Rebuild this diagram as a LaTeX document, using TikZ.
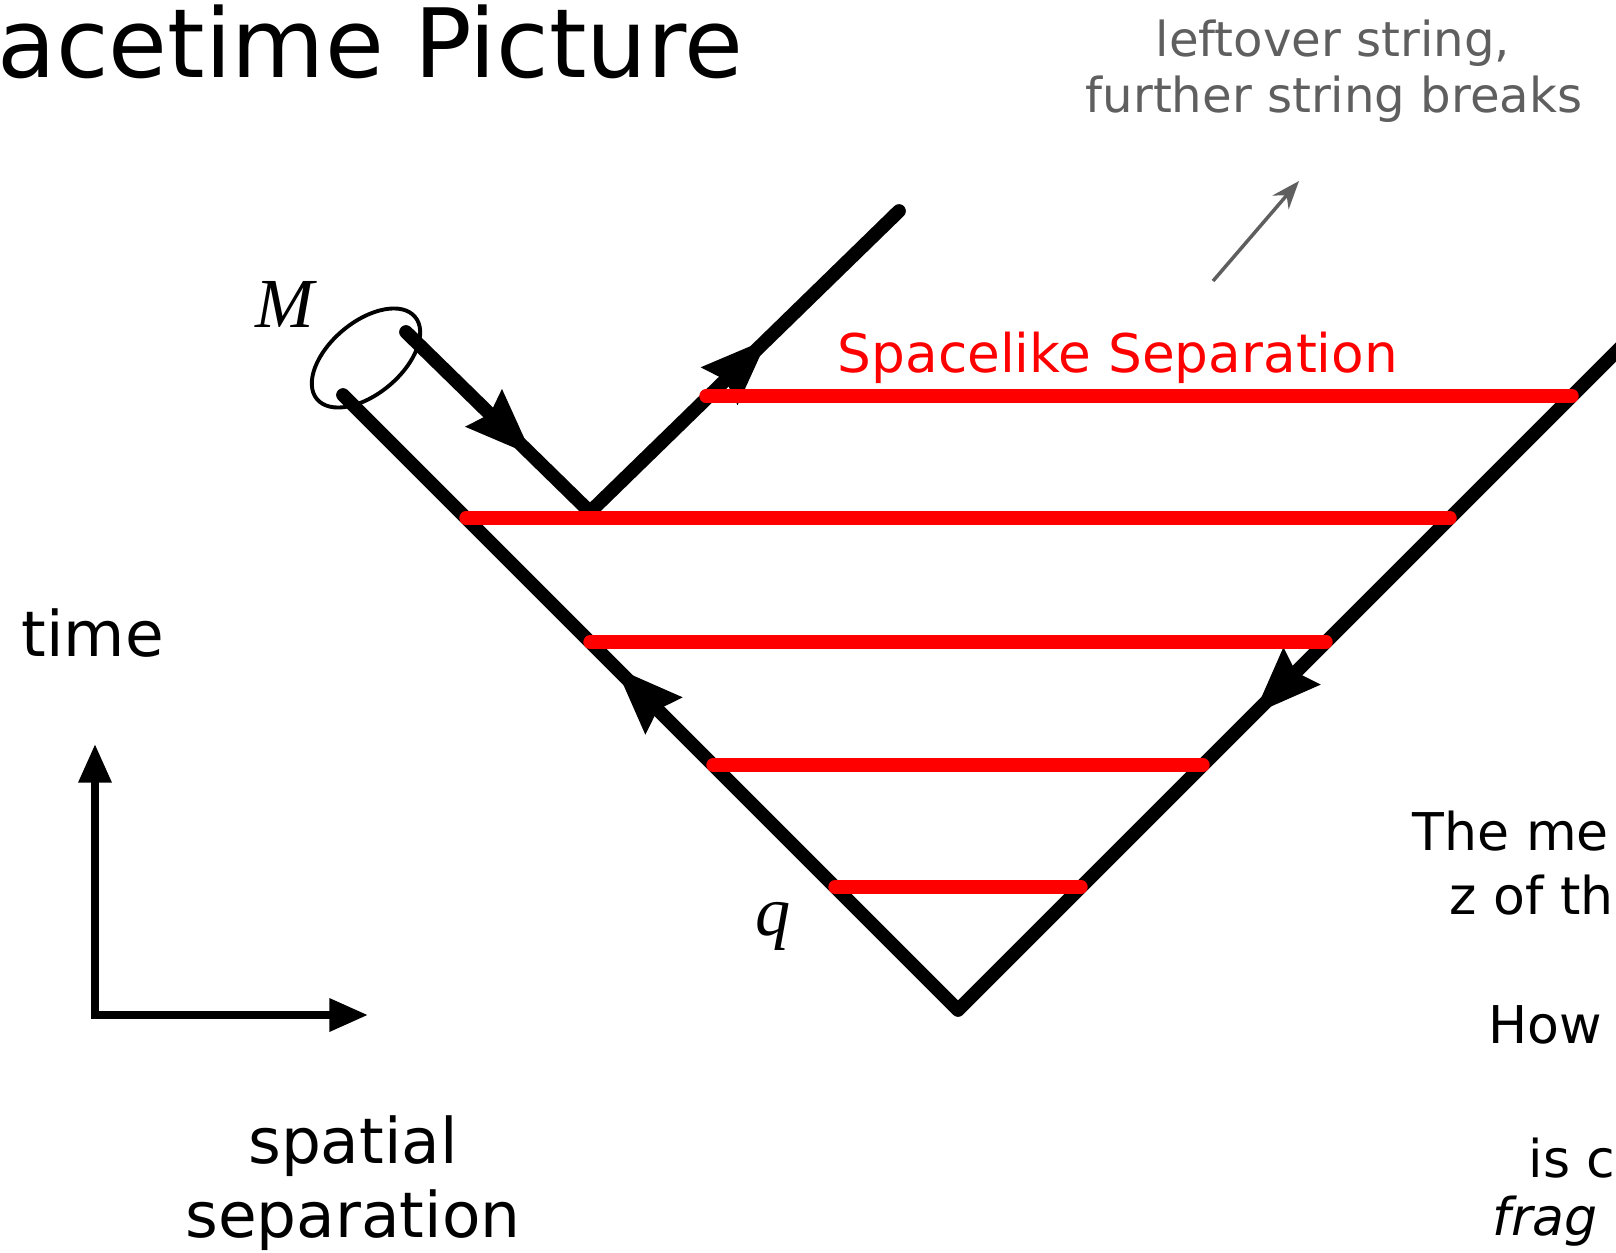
\documentclass[tikz,border=0pt]{standalone}
\usepackage{fontspec}
\setmainfont{DejaVu Sans}
\newfontfamily\timesit[ItalicFont={Liberation Serif Italic}]{Liberation Serif}
\usepackage{tikz}
\usetikzlibrary{arrows.meta,positioning,calc,decorations.markings}
\definecolor{slicered}{HTML}{FF0000}
\definecolor{notegray}{HTML}{5F5F5F}
\newcommand{\fsz}[2]{\fontsize{#1}{#2}\selectfont}

\begin{document}
\begin{tikzpicture}[
    x=0.01cm, y=-0.01cm, >=Stealth,
    worldline/.style={line width=3.9pt, line cap=round, line join=round},
    slice/.style={draw=slicered, line width=3.8pt, line cap=round},
    flowtwo/.style 2 args={postaction={decorate}, decoration={markings,
        mark=at position #1 with {\arrow{Stealth[length=19pt, width=14pt, inset=2pt]}},
        mark=at position #2 with {\arrow{Stealth[length=19pt, width=14pt, inset=2pt]}}}},
    txt/.style={inner sep=0pt, anchor=base west},
    big/.style={txt, font=\fsz{17.9}{21}},
    side/.style={txt, font=\fsz{14.8}{18}},
    note/.style={inner sep=0pt, anchor=base, text=notegray, font=\fsz{13.7}{16}},
    quark/.style={inner sep=0pt, font=\fsz{20}{24}\timesit\itshape}]
  \useasboundingbox (0,0) rectangle (1616,1252);

  % title, cut by the slide edge
  \node[txt, font=\fsz{27.2}{32}] (title) at (-3,78) {acetime Picture};

  % string world lines
  \coordinate (vertex) at (958,1010);
  \coordinate (qend) at (343,395);
  \coordinate (rend) at (1640,328);
  \coordinate (mend) at (406,332);
  \coordinate (kink) at (590,512);
  \coordinate (top) at (899,211);
  \draw[worldline, flowtwo={0.298}{0.79}] (rend) -- (vertex) -- (qend);
  \draw[worldline, flowtwo={0.258}{0.737}] (mend) -- (kink) -- (top);
  \draw[line width=1.1pt] (366,358) ellipse[x radius=64, y radius=36, rotate=40];

  % equal time slices
  \draw[slice] (706,396) -- (1572,396);
  \draw[slice] (466,518) -- (1450,518);
  \draw[slice] (590,642) -- (1326,642);
  \draw[slice] (713,765) -- (1203,765);
  \draw[slice] (835,887) -- (1081,887);
  \node[txt, text=slicered, font=\fsz{15.15}{18}] (sep) at (837,373) {Spacelike Separation};

  \node[quark] (mlabel) at (285,304) {M};
  \node[quark] (qlabel) at (773,926) {q};

  % leftover piece
  \node[note] (note1) at (1333,57) {leftover string,};
  \node[note] (note2) at (1334,113) {further string breaks};
  \coordinate (ptail) at (1213,281);
  \coordinate (phead) at (1299,181);
  \draw[notegray, line width=1pt, -{Stealth[length=8pt, width=6pt]}] (ptail) -- (phead);

  % axes
  \coordinate (origin) at (95,1015);
  \coordinate (ttip) at (95,744);
  \coordinate (xtip) at (368,1015);
  \draw[line width=2.2pt, {Triangle[length=11pt, width=9pt]}-{Triangle[length=11pt, width=9pt]}]
    (ttip) -- (origin) -- (xtip);
  \node[big] (time) at (21,656) {time};
  \node[big, anchor=base] (spatial) at (353,1163) {spatial};
  \node[big, anchor=base] (separation) at (353,1237) {separation};

  % text on the right, cut by the slide edge
  \node[side] (r1) at (1412,850) {The me};
  \node[side] (r2) at (1449,914) {z of th};
  \node[side] (r3) at (1488,1043) {How};
  \node[side] (r4) at (1528,1177) {is c};
  \node[side, font=\fsz{14.8}{18}\itshape] (r5) at (1492,1235) {frag};
\end{tikzpicture}
\end{document}
